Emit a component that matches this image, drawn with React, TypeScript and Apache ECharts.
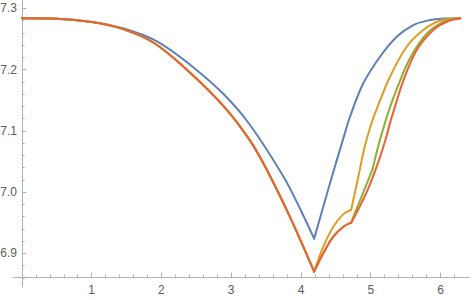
import React, { useEffect, useRef } from "react";
import * as echarts from "echarts";

// ---- Data ----
const xMajorTicks = [1, 2, 3, 4, 5, 6];
const xMinorTicks = [0.2, 0.4, 0.6, 0.8, 1.2, 1.4, 1.6, 1.8, 2.2, 2.4, 2.6, 2.8, 3.2, 3.4, 3.6, 3.8, 4.2, 4.4, 4.6, 4.8, 5.2, 5.4, 5.6, 5.8, 6.2];
const yMajorTicks = [6.9, 7.0, 7.1, 7.2, 7.3];
const yMinorTicks = [6.86, 6.88, 6.92, 6.94, 6.96, 6.98, 7.02, 7.04, 7.06, 7.08, 7.12, 7.14, 7.16, 7.18, 7.22, 7.24, 7.26, 7.28];

// shared left branch of yellow / green / red
const leftCommon = [
  [0, 7.2837], [0.5, 7.283], [1.0, 7.2776], [1.45, 7.266], [1.9, 7.243], [2.4, 7.196],
  [2.9, 7.139], [3.27, 7.084], [3.51, 7.0365], [3.84, 6.96], [4.189, 6.87],
];
const blueLeft = [
  [0, 7.2837], [0.5, 7.2831], [1.0, 7.2779], [1.45, 7.2675], [1.93, 7.2465], [2.41, 7.208],
  [2.89, 7.16], [3.27, 7.1095], [3.75, 7.025], [3.99, 6.972], [4.189, 6.924],
];
const blueRight = [
  [4.189, 6.924], [4.416, 7.0143], [4.6, 7.085], [4.703, 7.123], [4.893, 7.1776], [5.133, 7.221],
  [5.372, 7.2536], [5.61, 7.2727], [5.849, 7.2809], [6.05, 7.2832], [6.283, 7.2837],
];
const yellowA = [[4.189, 6.87], [4.32, 6.9108], [4.463, 6.9434], [4.607, 6.964], [4.72, 6.9712]];
const yellowB = [
  [4.72, 6.9712], [4.822, 7.0251], [4.918, 7.076], [5.014, 7.1135], [5.08, 7.1339], [5.276, 7.1883],
  [5.515, 7.2373], [5.753, 7.2646], [5.993, 7.2798], [6.283, 7.2837],
];
const redGreenA = [[4.189, 6.87], [4.32, 6.9], [4.463, 6.9271], [4.607, 6.9434], [4.72, 6.95]];
const greenB = [[4.72, 6.95], [4.78, 6.968], [4.87, 6.993], [4.95, 7.0155], [5.025, 7.037]];
const greenC = [
  [5.025, 7.037], [5.1, 7.072], [5.18, 7.104], [5.26, 7.133], [5.372, 7.168], [5.563, 7.2185],
  [5.802, 7.2585], [6.04, 7.278], [6.283, 7.2837],
];
const redB = [[4.72, 6.95], [4.8, 6.967], [4.88, 6.985], [4.965, 7.006], [5.05, 7.0306]];
const redC = [[5.05, 7.0306], [5.15, 7.063], [5.24, 7.097]];
const redD = [
  [5.24, 7.097], [5.276, 7.113], [5.338, 7.136], [5.467, 7.182], [5.659, 7.2319],
  [5.897, 7.2646], [6.089, 7.2781], [6.283, 7.2837],
];

const BLUE = "#5E81B5";
const YELLOW = "#E19C24";
const GREEN = "#8FB032";
const RED = "#EB6235";

const AXIS_COLOR = "#b3b3b3";
const LABEL_COLOR = "#5c5c5c";
const FONT = "Liberation Sans";

export default function App() {
  const ref = useRef<HTMLDivElement>(null);
  useEffect(() => {
    if (!ref.current) return;
    const chart = echarts.init(ref.current, undefined, { renderer: "svg" });
    const xMin = -0.126, xMax = 6.4096, yMin = 6.845, yMax = 7.3136;
    const line = (data: number[][], color: string) => ({
      type: "line",
      data,
      smooth: 0.35,
      showSymbol: false,
      symbol: "none",
      xAxisIndex: 0,
      yAxisIndex: 0,
      lineStyle: { color, width: 2, cap: "round", join: "round" },
      silent: true,
    });
    const baseX = {
      type: "value",
      min: xMin,
      max: xMax,
      position: "bottom",
      offset: -10,
      splitLine: { show: false },
    };
    const baseY = {
      type: "value",
      min: yMin,
      max: yMax,
      position: "left",
      offset: -8.8,
      splitLine: { show: false },
    };
    chart.setOption({
      animation: false,
      grid: { left: 13.1, right: 2.9, top: 0, bottom: 13, outerBoundsMode: "none", containLabel: false },
      xAxis: [
        {
          ...baseX,
          axisLine: { show: true, onZero: false, lineStyle: { color: AXIS_COLOR, width: 1 } },
          axisTick: { show: true, inside: true, length: 4.6, customValues: xMajorTicks, lineStyle: { color: AXIS_COLOR } },
          axisLabel: {
            show: true, customValues: xMajorTicks, margin: 7, color: LABEL_COLOR,
            fontFamily: FONT, fontSize: 12, formatter: (v: number) => String(Math.round(v)),
          },
        },
        {
          ...baseX,
          axisLine: { show: false, onZero: false },
          axisTick: { show: true, inside: true, length: 2.7, customValues: xMinorTicks, lineStyle: { color: AXIS_COLOR } },
          axisLabel: { show: false },
        },
      ],
      yAxis: [
        {
          ...baseY,
          axisLine: { show: true, onZero: false, lineStyle: { color: AXIS_COLOR, width: 1 } },
          axisTick: { show: true, inside: true, length: 4.4, customValues: yMajorTicks, lineStyle: { color: AXIS_COLOR } },
          axisLabel: {
            show: true, customValues: yMajorTicks, margin: 5, color: LABEL_COLOR,
            fontFamily: FONT, fontSize: 12, formatter: (v: number) => v.toFixed(1),
          },
        },
        {
          ...baseY,
          axisLine: { show: false, onZero: false },
          axisTick: { show: true, inside: true, length: 2.7, customValues: yMinorTicks, lineStyle: { color: AXIS_COLOR } },
          axisLabel: { show: false },
        },
      ],
      series: [
        line(blueLeft, BLUE),
        line(blueRight, BLUE),
        line(leftCommon, YELLOW),
        line(yellowA, YELLOW),
        line(yellowB, YELLOW),
        line(leftCommon, GREEN),
        line(redGreenA, GREEN),
        line(greenB, GREEN),
        line(greenC, GREEN),
        line(leftCommon, RED),
        line(redGreenA, RED),
        line(redB, RED),
        line(redC, RED),
        line(redD, RED),
      ],
    });
    return () => chart.dispose();
  }, []);
  return (
    <div
      ref={ref}
      style={{ position: "absolute", left: 0, top: 0, width: 472, height: 300 }}
    />
  );
}
